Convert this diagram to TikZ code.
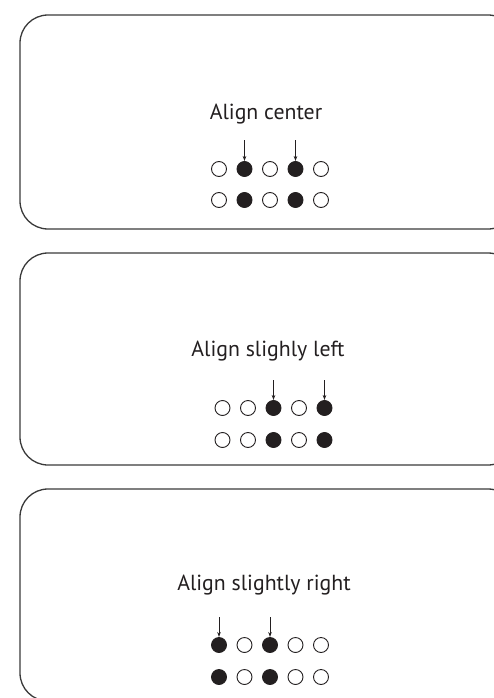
\documentclass[tikz,border=0pt]{standalone}
\usepackage{fontspec}
\setmainfont{PT Sans}
\usetikzlibrary{arrows.meta}
\definecolor{ink}{HTML}{231F20}
\definecolor{frame}{HTML}{3A3A3A}
\tikzset{
  panel/.style={draw=frame, line width=1.3pt, rounded corners=28pt},
  title/.style={anchor=base, inner sep=0pt, font=\fontsize{21.8}{26}\selectfont, text=ink},
  dotopen/.style={circle, draw=ink, line width=0.9pt, fill=white, minimum size=15pt, inner sep=0pt},
  dotfull/.style={circle, draw=ink, line width=0.9pt, fill=ink, minimum size=15pt, inner sep=0pt},
  pointer/.style={draw=ink, line width=0.8pt, -{Stealth[length=5pt,width=3.5pt]}},
}
\begin{document}
\begin{tikzpicture}[x=1pt,y=-1pt]
\useasboundingbox (0,0) rectangle (494,698);
\begin{scope}
\clip (0,0) rectangle (494,698);
\draw[panel] (20,15) rectangle (516,229);
\draw[panel] (20,253) rectangle (516,465);
\draw[panel] (20,489) rectangle (516,701);
\end{scope}

% Panel 1
\node[title] (t1) at (266,120) {Align center};
\node[dotopen] (a1) at (219,169) {};
\node[dotfull] (a2) at (244.5,169) {};
\node[dotopen] (a3) at (270,169) {};
\node[dotfull] (a4) at (295.5,169) {};
\node[dotopen] (a5) at (321,169) {};
\node[dotopen] (b1) at (219,200) {};
\node[dotfull] (b2) at (244.5,200) {};
\node[dotopen] (b3) at (270,200) {};
\node[dotfull] (b4) at (295.5,200) {};
\node[dotopen] (b5) at (321,200) {};
\coordinate (p1) at (244.5,140);
\coordinate (p2) at (295.5,140);
\draw[pointer] (p1) -- (a2.north);
\draw[pointer] (p2) -- (a4.north);

% Panel 2
\node[title] (t2) at (268,356) {Align slighly left};
\node[dotopen] (c1) at (222.5,408) {};
\node[dotopen] (c2) at (248,408) {};
\node[dotfull] (c3) at (273.5,408) {};
\node[dotopen] (c4) at (299,408) {};
\node[dotfull] (c5) at (324.5,408) {};
\node[dotopen] (d1) at (222.5,440) {};
\node[dotopen] (d2) at (248,440) {};
\node[dotfull] (d3) at (273.5,440) {};
\node[dotopen] (d4) at (299,440) {};
\node[dotfull] (d5) at (324.5,440) {};
\coordinate (p3) at (273.5,380);
\coordinate (p4) at (324.5,380);
\draw[pointer] (p3) -- (c3.north);
\draw[pointer] (p4) -- (c5.north);

% Panel 3
\node[title] (t3) at (264,590) {Align slightly right};
\node[dotfull] (e1) at (219,645) {};
\node[dotopen] (e2) at (244.5,645) {};
\node[dotfull] (e3) at (270,645) {};
\node[dotopen] (e4) at (295.5,645) {};
\node[dotopen] (e5) at (321,645) {};
\node[dotfull] (f1) at (219,677) {};
\node[dotopen] (f2) at (244.5,677) {};
\node[dotfull] (f3) at (270,677) {};
\node[dotopen] (f4) at (295.5,677) {};
\node[dotopen] (f5) at (321,677) {};
\coordinate (p5) at (219,617);
\coordinate (p6) at (270,617);
\draw[pointer] (p5) -- (e1.north);
\draw[pointer] (p6) -- (e3.north);
\end{tikzpicture}
\end{document}
